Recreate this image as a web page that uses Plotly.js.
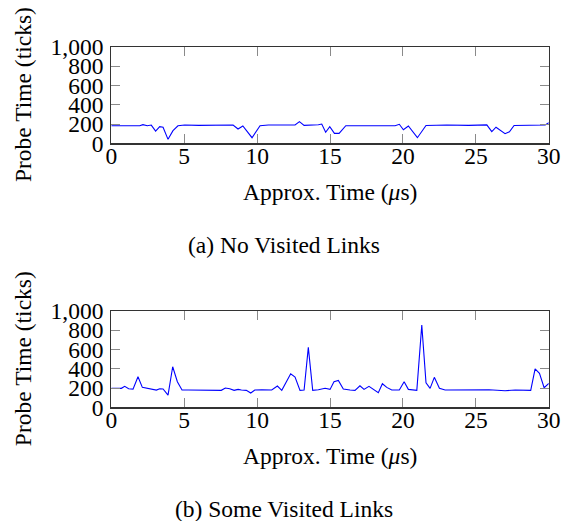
<!DOCTYPE html>
<html>
<head>
<meta charset="utf-8">
<script src="https://cdn.plot.ly/plotly-3.0.1.min.js"></script>
<style>html,body{margin:0;padding:0;background:#fff;}#chart{width:563px;height:521px;}</style>
</head>
<body>
<div id="chart"></div>
<script>
// (a) No Visited Links
const timeA = [0,1.95,2.17,2.47,2.74,3.04,3.32,3.55,3.89,4.23,4.57,5.03,6.0,7.0,8.0,8.35,8.69,9.02,9.65,9.95,10.2,10.77,12.0,12.6,12.9,13.22,14.2,14.43,14.7,14.98,15.3,15.62,16.08,17.5,19.46,19.75,20.03,20.37,20.99,21.58,23.0,24.5,25.75,26.09,26.38,27.0,27.3,27.62,28.5,29.3,29.75,30];
const probeA = [182,182,193,182,189,127,172,166,41,131,182,189,186,184,183,189,148,180,58,127,182,189,186,189,224,186,193,200,114,172,103,103,182,185,182,197,140,179,58,184,190,186,191,122,167,100,120,184,184,186,190,214];
// (b) Some Visited Links
const timeB = [0,0.69,0.92,1.19,1.49,1.83,2.13,2.52,2.86,3.09,3.32,3.55,3.89,4.21,4.53,4.85,5.26,5.74,6.2,6.65,7.11,7.54,7.82,8.12,8.42,8.69,8.92,9.26,9.56,9.84,10.32,11.0,11.39,11.69,12.3,12.6,12.94,13.22,13.51,13.81,14.2,14.66,15.0,15.27,15.57,15.91,16.37,16.71,17.05,17.33,17.67,17.97,18.31,18.59,18.89,19.23,19.75,20.08,20.37,20.95,21.29,21.58,21.86,22.15,22.5,22.89,23.8,25.0,25.9,27.0,27.7,28.76,29.06,29.36,29.68,30];
const probeB = [197,197,218,193,189,317,207,197,190,179,193,190,127,421,265,179,179,179,176,179,178,176,200,193,176,186,179,176,148,179,182,179,221,176,348,314,176,179,622,176,183,197,186,265,279,190,179,176,224,186,218,186,152,245,207,179,179,265,186,176,853,255,197,311,197,179,179,176,182,172,179,176,400,352,203,248];
const xTicks = [0,5,10,15,20,25,30];
const yTicks = [0,200,400,600,800,1000];
const xTitle = 'Approx. Time (<i>μ</i>s)';
const yTitle = 'Probe Time (ticks)';
const captions = ['(a) No Visited Links','(b) Some Visited Links'];

const W = 563, H = 521;
const FONT = '"Liberation Serif", "Times New Roman", Times, serif';
const FS = 23.5;
const px = v => v / W, py = v => 1 - v / H;

const line = {color:'#0000ff', width:1.1};
const traces = [
  {x: timeA, y: probeA, type:'scatter', mode:'lines', line, xaxis:'x', yaxis:'y', hoverinfo:'skip'},
  {x: timeB, y: probeB, type:'scatter', mode:'lines', line, xaxis:'x2', yaxis:'y2', hoverinfo:'skip'}
];

function xax(anchor){
  return {domain:[px(111.3), px(548.8)], range:[0,30], anchor, tickvals:xTicks, ticktext:xTicks.map(String),
    ticks:'inside', ticklen:9, tickcolor:'#8a8a8a', tickwidth:1, mirror:'allticks', showline:true,
    linecolor:'#333', linewidth:1.2, showgrid:false, zeroline:false, fixedrange:true,
    ticklabelstandoff:-9,
    tickfont:{family:FONT, size:FS, color:'#000'}};
}
function yax(anchor, top, bottom){
  return {domain:[py(bottom), py(top)], range:[0,1000], anchor, tickvals:yTicks, ticktext:yTicks.map(v=>v.toLocaleString('en-US')),
    ticks:'inside', ticklen:9, tickcolor:'#8a8a8a', tickwidth:1, mirror:'allticks', showline:true,
    linecolor:'#333', linewidth:1.2, showgrid:false, zeroline:false, fixedrange:true,
    ticklabelstandoff:2,
    tickfont:{family:FONT, size:FS, color:'#000'}};
}

const ann = [];
const plots = [{top:46.8, bottom:143.3}, {top:311, bottom:407.3}];
plots.forEach((p, i) => {
  const shift = i * 264;
  ann.push({text:xTitle, xref:'paper', yref:'paper', x:px(330), y:py(192+shift), xanchor:'center', yanchor:'middle', showarrow:false, font:{family:FONT, size:FS, color:'#000'}});
  ann.push({text:captions[i], xref:'paper', yref:'paper', x:px(284), y:py(245+shift), xanchor:'center', yanchor:'middle', showarrow:false, font:{family:FONT, size:FS, color:'#000'}});
  ann.push({text:yTitle, xref:'paper', yref:'paper', x:px(23), y:py((p.top+p.bottom)/2), xanchor:'center', yanchor:'middle', textangle:-90, showarrow:false, font:{family:FONT, size:FS, color:'#000'}});
});

const layout = {
  width:W, height:H, margin:{l:0, r:0, t:0, b:0}, paper_bgcolor:'#fff', plot_bgcolor:'#fff',
  showlegend:false, font:{family:FONT, size:FS, color:'#000'},
  xaxis: xax('y'), yaxis: yax('x', plots[0].top, plots[0].bottom),
  xaxis2: xax('y2'), yaxis2: yax('x2', plots[1].top, plots[1].bottom),
  annotations: ann
};
Plotly.newPlot('chart', traces, layout, {staticPlot:true, displayModeBar:false});
</script>
</body>
</html>
